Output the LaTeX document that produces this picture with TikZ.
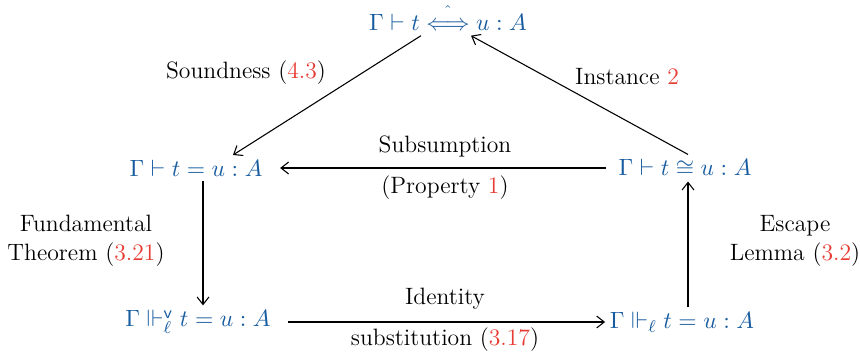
\documentclass[tikz,border=0pt]{standalone}
\usepackage{amsmath,amssymb}
\usetikzlibrary{arrows.meta}
\definecolor{termblue}{RGB}{24,92,160}
\definecolor{refred}{RGB}{232,58,50}
\newcommand{\rref}[1]{\textcolor{refred}{#1}}
\begin{document}
\begin{tikzpicture}[x=0.465pt, y=-0.465pt, line width=0.5pt,
    >={Straight Barb[length=3.5pt,width=5.5pt]},
    font=\fontsize{11}{13.5}\selectfont]
    \tikzset{judg/.style={text=termblue, inner sep=2pt},
             lbl/.style={align=center, inner sep=1pt}}
    \useasboundingbox (0,0) rectangle (860,356);

    % Judgements
    \node[judg] (hat)  at (448,17)  {$\Gamma \vdash t \mathrel{\overset{\hat{}}{\Longleftrightarrow}} u : A$};
    \node[judg] (eq)   at (196,168) {$\Gamma \vdash t = u : A$};
    \node[judg] (cong) at (685,168) {$\Gamma \vdash t \cong u : A$};
    \node[judg] (lrv)  at (198,322) {$\Gamma \Vdash^{\mathsf{v}}_{\ell} t = u : A$};
    \node[judg] (lr)   at (682,322) {$\Gamma \Vdash_{\ell} t = u : A$};

    % Arrows
    \draw[->] (hat.south -| 421,0) -- (eq.north -| 233,0);
    \draw[->] (cong.north -| 688,0) -- (hat.south -| 471,0);
    \draw[->, shorten <=3.7pt, shorten >=6pt] (cong.west) -- (eq.east);
    \draw[->] (eq.south -| 203,0) -- (lrv.north -| 203,0);
    \draw[->, shorten <=6pt] (lrv.east) -- (lr.west);
    \draw[->] (lr.north -| 688,0) -- (cong.south -| 688,0);

    % Labels
    \node[lbl] (snd) at (246,73)  {Soundness (\rref{4.3})};
    \node[lbl] (ins) at (627,77)  {Instance \rref{2}};
    \node[lbl] (sub) at (445,146) {Subsumption};
    \node[lbl] (prp) at (445,188) {(Property \rref{1})};
    \node[lbl] (fun) at (86,241)  {Fundamental\\Theorem (\rref{3.21})};
    \node[lbl] (esc) at (795,241) {Escape\\Lemma (\rref{3.2})};
    \node[lbl] (idn) at (445,299) {Identity};
    \node[lbl] (sbs) at (445,340) {substitution (\rref{3.17})};
\end{tikzpicture}
\end{document}
